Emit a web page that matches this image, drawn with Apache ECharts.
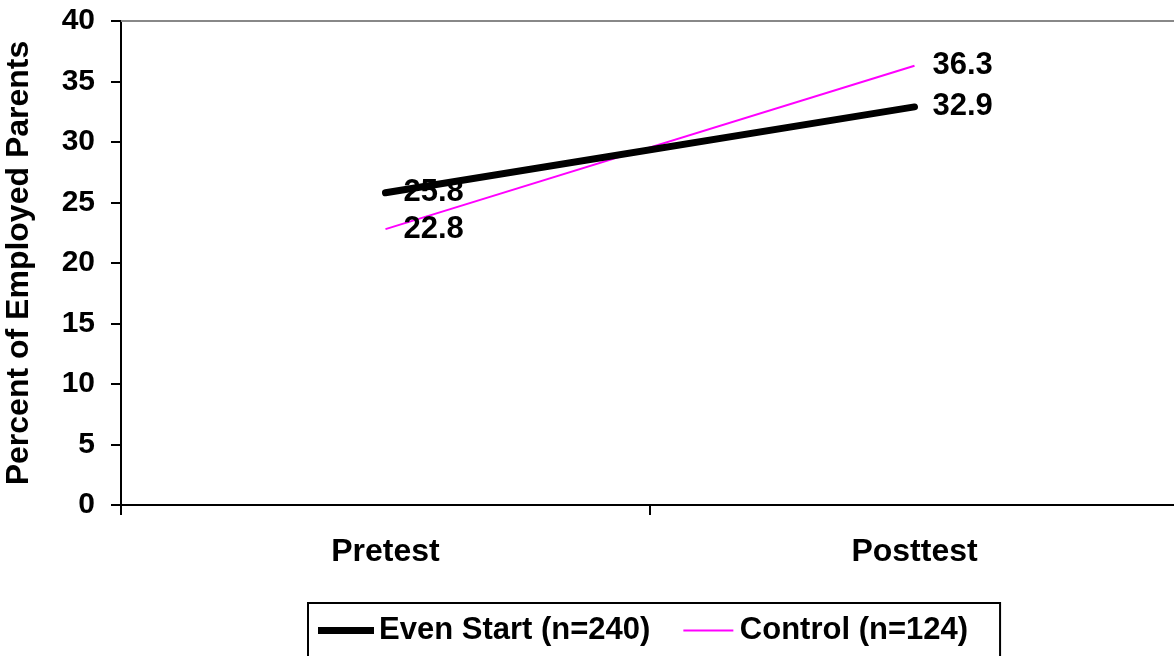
<!DOCTYPE html>
<html><head><meta charset="utf-8">
<script src="https://cdn.jsdelivr.net/npm/echarts@6/dist/echarts.min.js"></script>
<style>html,body{margin:0;padding:0;background:#fff}#c{width:1174px;height:656px}</style>
</head><body><div id="c"></div>
<script>
const categories = ['Pretest', 'Posttest'];
const evenStart = [25.8, 32.9];
const control = [22.8, 36.3];
const seriesNames = ['Even Start (n=240)', 'Control (n=124)'];
const yTicks = { min: 0, max: 40, interval: 5 };
const yTitle = 'Percent of Employed Parents';

const FONT = '"Liberation Sans", Arial, sans-serif';
const chart = echarts.init(document.getElementById('c'), null, { renderer: 'canvas' });
function labelStyle() {
  return {
    show: true, position: 'right', distance: 18, opacity: 1,
    fontFamily: FONT, fontWeight: 'bold', fontSize: 31, color: '#000000'
  };
}
chart.setOption({
  animation: false,
  backgroundColor: '#fff',
  grid: { left: 121, top: 21, right: -5, bottom: 151, containLabel: false, outerBoundsMode: 'none' },
  legend: {
    left: 308, top: 603,
    padding: [12, 32, 20, 10],
    borderColor: '#000', borderWidth: 2, borderRadius: 0,
    itemWidth: 56, itemHeight: 30, itemGap: 30,
    textStyle: { fontFamily: FONT, fontWeight: 'bold', fontSize: 31, color: '#000' },
    data: [
      { name: seriesNames[0], icon: 'path://M0,0 L0,0 M0,11.5 L56,11.5 L56,18.5 L0,18.5 Z M0,30 L0,30' },
      { name: seriesNames[1], icon: 'path://M0,0 L0,0 M3,14 L53,14 L53,16 L3,16 Z M0,30 L0,30' }
    ]
  },
  xAxis: [{
    type: 'category', data: categories, boundaryGap: true, position: 'bottom',
    axisLine: { lineStyle: { color: '#000', width: 2 } },
    axisTick: { show: true, length: 10, lineStyle: { color: '#000', width: 2 } },
    axisLabel: { margin: 31, fontFamily: FONT, fontWeight: 'bold', fontSize: 32, color: '#000' },
    splitLine: { show: false }
  }, {
    type: 'category', data: categories, position: 'top',
    axisLine: { show: true, lineStyle: { color: '#888', width: 2 } },
    axisTick: { show: false }, axisLabel: { show: false }, splitLine: { show: false }
  }],
  yAxis: {
    type: 'value', min: yTicks.min, max: yTicks.max, interval: yTicks.interval,
    name: yTitle, nameLocation: 'middle', nameGap: 86, nameRotate: 90,
    nameTextStyle: { fontFamily: FONT, fontWeight: 'bold', fontSize: 32, color: '#000' },
    axisLine: { show: true, lineStyle: { color: '#000', width: 2 } },
    axisTick: { show: true, length: 10, lineStyle: { color: '#000', width: 2 } },
    axisLabel: { margin: 26, fontFamily: FONT, fontWeight: 'bold', fontSize: 30, color: '#000' },
    splitLine: { show: false }
  },
  series: [{
    name: seriesNames[0], type: 'line', data: evenStart, symbol: 'none',
    lineStyle: { color: '#000', width: 7, cap: 'round' }, itemStyle: { color: '#000' }, z: 3
  }, {
    name: seriesNames[1], type: 'line', data: control, symbol: 'none',
    lineStyle: { color: '#FF00FF', width: 2 }, itemStyle: { color: '#FF00FF' }, z: 2
  }, {
    name: 'labels-even', type: 'scatter', data: evenStart, symbolSize: 0,
    itemStyle: { color: '#000' }, label: labelStyle(), z: 5, silent: true
  }, {
    name: 'labels-control', type: 'scatter', data: control, symbolSize: 0,
    itemStyle: { color: '#000' }, label: labelStyle(), z: 5, silent: true
  }]
});
</script></body></html>
